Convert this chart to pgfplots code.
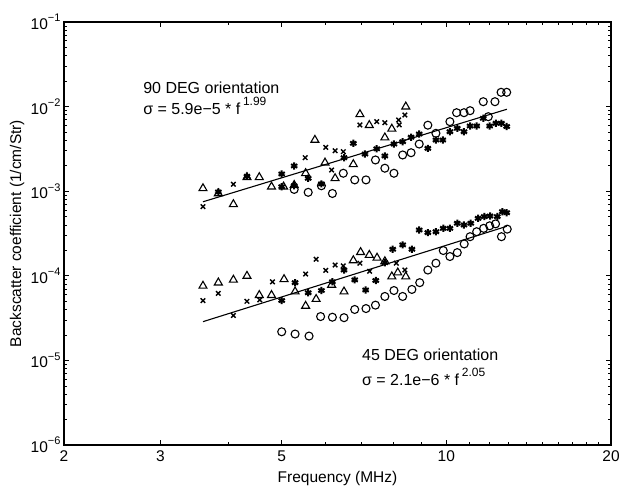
\documentclass[border=0pt]{standalone}
\usepackage{pgfplots}
\pgfplotsset{compat=1.18}
\usepackage{fontspec}
\setmainfont{Liberation Sans}
\newcommand{\tp}[1]{10\raisebox{0.5em}{\fontsize{11}{11}\selectfont −#1}}
\begin{document}
\begin{tikzpicture}
\useasboundingbox (-64pt,-41pt) rectangle (556pt,445pt);
\begin{axis}[
  at={(0,0)}, anchor=south west,
  scale only axis, width=547pt, height=423pt,
  xmode=log, ymode=log,
  xmin=2, xmax=20, ymin=1e-6, ymax=1e-1,
  xtick={2,3,5,10,20}, xticklabels={2,3,5,10,20},
  minor xtick={4,6,7,8,9,11,12,13,14,15,16,17,18,19},
  ytick={1e-6,1e-5,1e-4,1e-3,1e-2,1e-1},
  yticklabels={\tp{6},\tp{5},\tp{4},\tp{3},\tp{2},\tp{1}},
  tick align=inside, major tick length=5pt, minor tick length=3pt,
  tick style={black, line width=0.7pt},
  axis line style={black, line width=1.3pt},
  ticklabel style={font=\fontsize{15.5}{15.5}\selectfont},
  xticklabel style={yshift=-2pt},
  xlabel={Frequency (MHz)},
  ylabel={Backscatter coefficient (1/cm/Str)},
  label style={font=\fontsize{15.5}{15.5}\selectfont},
  xlabel style={at={(rel axis cs:0.5,0)}, anchor=center, yshift=-33pt},
  ylabel style={at={(rel axis cs:0,0.5)}, anchor=center, rotate=0, yshift=47pt},
  clip=false,
]
% triangles
\addplot[only marks, mark=triangle, mark size=4.6pt, black, line width=1.1pt] coordinates {
 (3.59,1.08e-3) (3.83,9.4e-4) (4.08,7.0e-4) (4.32,1.46e-3) (4.55,1.46e-3) (4.79,1.13e-3)
 (5.04,1.13e-3) (5.27,1.18e-3) (5.53,1.63e-3) (5.75,4.03e-3) (6.00,2.17e-3) (6.26,1.42e-3)
 (6.76,2.08e-3) (6.95,8.11e-3) (7.23,6.03e-3) (7.72,4.3e-3) (7.95,5.46e-3) (8.43,9.98e-3)
 (3.59,7.6e-5) (3.83,8.3e-5) (4.08,8.95e-5) (4.32,9.95e-5) (4.55,5.9e-5) (4.79,5.9e-5)
 (5.05,9.1e-5) (5.29,6.5e-5) (5.53,4.4e-5) (5.78,5.3e-5) (6.17,7.8e-5) (6.50,6.5e-5)
 (6.76,1.52e-4) (6.97,1.90e-4) (7.23,1.76e-4) (7.47,1.63e-4) (7.72,1.48e-4) (7.95,9.8e-5)
 (8.15,1.09e-4) (8.43,9.8e-5)
};
% crosses
\addplot[only marks, mark=x, mark size=3.2pt, black, line width=1.4pt] coordinates {
 (3.59,6.56e-4) (4.08,1.21e-3) (5.52,2.49e-3) (6.02,3.30e-3) (6.26,3.01e-3) (6.48,2.93e-3)
 (6.17,1.78e-3) (6.95,6.07e-3) (7.46,6.64e-3) (7.72,6.46e-3) (8.18,6.95e-3) (8.40,7.96e-3)
 (8.20,6.07e-3)
 (3.59,5.1e-5) (3.83,6.2e-5) (4.08,3.4e-5) (4.32,5.0e-5) (4.56,5.2e-5) (4.81,8.5e-5)
 (5.53,1.05e-4) (5.78,1.57e-4) (6.02,1.16e-4) (6.26,1.34e-4) (6.48,1.31e-4) (6.95,1.41e-4)
 (7.24,1.13e-4) (8.10,1.41e-4) (8.40,1.17e-4)
};
% filled (asterisk)
\addplot[only marks, mark=asterisk, mark size=3.6pt, black, line width=2pt] coordinates {
 (3.83,9.8e-4) (4.32,1.5e-3) (5.00,1.60e-3) (5.00,1.13e-3) (5.27,1.99e-3) (5.27,1.16e-3)
 (5.59,1.42e-3) (5.91,1.22e-3) (6.50,2.49e-3) (6.76,3.68e-3) (7.10,2.75e-3) (7.46,3.17e-3)
 (7.72,2.61e-3) (8.02,3.61e-3) (8.32,3.85e-3) (8.62,4.35e-3) (8.92,4.74e-3) (9.25,3.21e-3)
 (9.57,4.03e-3) (9.85,4.03e-3) (10.15,5.05e-3) (10.47,5.54e-3) (10.77,5.05e-3) (11.05,5.90e-3)
 (11.36,5.90e-3) (11.68,7.28e-3) (12.00,5.90e-3) (12.32,6.35e-3) (12.61,6.35e-3) (12.89,5.81e-3)
 (5.00,5.1e-5) (5.29,8.3e-5) (5.59,6.3e-5) (5.91,6.7e-5) (6.19,8.5e-5) (6.50,1.17e-4)
 (6.80,8.95e-5) (7.12,6.8e-5) (7.43,8.8e-5) (7.72,1.43e-4) (7.98,2.06e-4) (8.32,2.32e-4)
 (8.65,2.06e-4) (8.92,3.48e-4) (9.25,3.24e-4) (9.57,3.32e-4) (9.87,3.64e-4) (10.15,3.64e-4)
 (10.47,4.18e-4) (10.77,3.99e-4) (11.08,4.18e-4) (11.43,4.78e-4) (11.73,5.01e-4) (12.02,5.09e-4)
 (12.39,5.01e-4) (12.66,5.73e-4) (12.89,5.57e-4)
};
% circles
\addplot[only marks, mark=o, mark size=4pt, black, line width=1.1pt] coordinates {
 (5.27,1.05e-3) (5.59,9.7e-4) (5.91,1.16e-3) (6.19,9.4e-4) (6.48,1.63e-3) (6.80,1.36e-3)
 (7.13,1.36e-3) (7.42,2.34e-3) (7.72,1.87e-3) (8.02,1.63e-3) (8.32,2.68e-3) (8.62,2.85e-3)
 (8.92,3.61e-3) (9.25,6.03e-3) (9.57,4.83e-3) (10.15,6.64e-3) (10.44,8.47e-3) (10.77,8.47e-3)
 (11.05,8.95e-3) (11.68,1.143e-2) (12.27,1.143e-2) (12.59,1.476e-2) (12.89,1.476e-2) (11.93,7.60e-3)
 (5.00,2.18e-5) (5.29,2.05e-5) (5.61,1.94e-5) (5.89,3.3e-5) (6.19,3.24e-5) (6.50,3.2e-5)
 (6.80,4.0e-5) (7.13,4.1e-5) (7.42,4.5e-5) (7.72,5.7e-5) (8.02,6.7e-5) (8.32,5.7e-5)
 (8.65,6.9e-5) (8.94,8.3e-5) (9.25,1.17e-4) (9.57,1.41e-4) (9.87,1.99e-4) (10.15,1.69e-4)
 (10.47,1.88e-4) (10.78,2.38e-4) (11.05,2.90e-4) (11.36,3.32e-4) (11.70,3.64e-4) (12.00,3.9e-4)
 (12.30,4.11e-4) (12.61,2.90e-4) (12.92,3.56e-4)
};
% fitted lines
\addplot[black, line width=1.1pt] coordinates {(3.59,7.5e-4) (12.9,9.3e-3)};
\addplot[black, line width=1.1pt] coordinates {(3.59,2.87e-5) (12.9,3.85e-4)};
\node[anchor=west, font=\fontsize{16}{16}\selectfont, inner sep=0pt] at (axis cs:2.79,1.66e-2) {90 DEG orientation};
\node[anchor=west, font=\fontsize{16}{16}\selectfont, inner sep=0pt] at (axis cs:2.79,1.02e-2) {σ = 5.9e−5 * f\,\raisebox{0.55em}{\fontsize{12}{12}\selectfont 1.99}};
\node[anchor=west, font=\fontsize{16}{16}\selectfont, inner sep=0pt] at (axis cs:7.01,1.16e-5) {45 DEG orientation};
\node[anchor=west, font=\fontsize{16}{16}\selectfont, inner sep=0pt] at (axis cs:7.01,6.4e-6) {σ = 2.1e−6 * f\,\raisebox{0.55em}{\fontsize{12}{12}\selectfont 2.05}};
\end{axis}
\end{tikzpicture}
\end{document}
